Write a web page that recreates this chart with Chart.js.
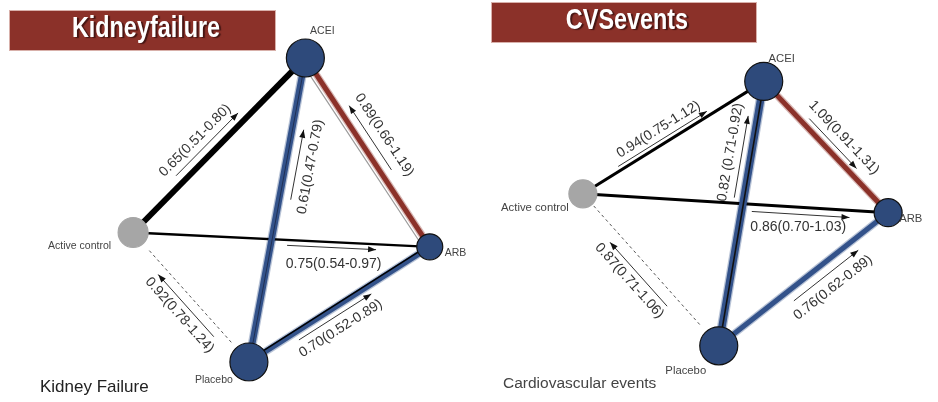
<!DOCTYPE html>
<html><head><meta charset="utf-8">
<script src="https://cdn.jsdelivr.net/npm/chart.js@4.4.1/dist/chart.umd.min.js"></script>
<style>html,body{margin:0;padding:0;background:#fff;overflow:hidden}#wrap{width:938px;height:402px}</style>
</head><body><div id="wrap"><canvas id="c" width="938" height="402"></canvas></div>
<script>
// ---------- data ----------
const treatments = ["ACEI", "Active control", "ARB", "Placebo"];
const panelTitles = ["Kidneyfailure", "CVSevents"];
const panelCaptions = ["Kidney Failure", "Cardiovascular events"];
// comparisons (indices into treatments)
const edgeFrom = [1, 3, 0, 1, 1, 3];
const edgeTo   = [0, 0, 2, 2, 3, 2];
// Kidney failure: odds ratios (95% CI)
const kfOR   = [0.65, 0.61, 0.89, 0.75, 0.92, 0.70];
const kfLow  = [0.51, 0.47, 0.66, 0.54, 0.78, 0.52];
const kfHigh = [0.80, 0.79, 1.19, 0.97, 1.24, 0.89];
// CV events: odds ratios (95% CI)
const cvOR   = [0.94, 0.82, 1.09, 0.86, 0.87, 0.76];
const cvLow  = [0.75, 0.71, 0.91, 0.70, 0.71, 0.62];
const cvHigh = [1.12, 0.92, 1.31, 1.03, 1.06, 0.89];
// network layout (node coordinates in diagram space) and node sizes
const kfNodeX = [298, 118, 428, 239];
const kfNodeY = [42, 236, 252, 380];
const kfNodeSize = [19, 15, 13, 19];
const cvNodeX = [777, 588, 907, 730];
const cvNodeY = [68, 193, 214, 362];
const cvNodeSize = [19, 14, 14, 19];

// ---------- styles ----------
const BLUE = '#2E4A7B', EBLUE = '#33528A', RED = '#8B3129', GREY = '#A6A6A6', TXT = '#333';
const nodeFill = [BLUE, GREY, BLUE, BLUE];
const nodeBorder = ['#111', GREY, '#111', '#111'];
const kfEdgeStyle = [
  {color:'#000', width:6},
  {color:EBLUE, width:6.5, rough:'rgba(51,82,138,0.35)', core:{width:0.8, off:0.5, color:'#1b2745'}},
  {color:RED, width:5, rough:'rgba(139,49,41,0.35)', accent:{color:'#9a9a9a', width:1.2, off:6}},
  {color:'#000', width:2.5},
  {color:'#555', width:1, dash:[3,3], t0:0.14, t1:0.86},
  {color:EBLUE, width:5.5, rough:'rgba(51,82,138,0.35)', core:{width:1.5, off:-2, color:'#000'}}
];
const cvEdgeStyle = [
  {color:'#000', width:3},
  {color:EBLUE, width:7.5, rough:'rgba(51,82,138,0.35)', core:{width:1.6, off:0.5, color:'#111'}},
  {color:RED, width:5, rough:'rgba(139,49,41,0.35)'},
  {color:'#000', width:3},
  {color:'#555', width:1, dash:[3,3], t0:0.08, t1:0.87},
  {color:EBLUE, width:5, rough:'rgba(51,82,138,0.35)'}
];
const kfLabelStyle = [
  {t:.45, off:-22, a0:.29, a1:.65, aoff:-10},
  {t:.655, off:26, a0:.54, a1:.77, aoff:12},
  {t:.47, off:-25, a0:.62, a1:.28, aoff:-11},
  {t:.68, off:24, a0:.52, a1:.82, aoff:6, flat:true},
  {t:.54, off:22, a0:.76, a1:.28, aoff:10},
  {t:.44, off:23, a0:.25, a1:.65, aoff:9}
];
const cvLabelStyle = [
  {t:.465, off:-16, a0:.21, a1:.70, aoff:-5},
  {t:.72, off:-22, a0:.555, a1:.864, aoff:-10, gap:' '},
  {t:.524, off:-21, a0:.32, a1:.70, aoff:-8},
  {t:.71, off:22, a0:.555, a1:.875, aoff:8, flat:true},
  {t:.477, off:25, a0:.69, a1:.27, aoff:13},
  {t:.577, off:27, a0:.40, a1:.78, aoff:12}
];
const kfNodeLabel = [
  {dx:17, dy:-27, align:'center'}, {dx:-22, dy:14, align:'right'},
  {dx:15, dy:6, align:'left'}, {dx:-35, dy:18, align:'center'}
];
const cvNodeLabel = [
  {dx:18, dy:-22, align:'center'}, {dx:-14, dy:14, align:'right'},
  {dx:11, dy:6, align:'left'}, {dx:-33, dy:25, align:'center'}
];

const panels = [
  {nx:kfNodeX, ny:kfNodeY, size:kfNodeSize, or:kfOR, lo:kfLow, hi:kfHigh, edge:kfEdgeStyle, lab:kfLabelStyle,
   nlab:kfNodeLabel, nfont:10.5, title:panelTitles[0], caption:panelCaptions[0],
   box:[9,10,267,41], titleX:146, titleY:37, capX:40, capY:392, capFont:17, capColor:'#222'},
  {nx:cvNodeX, ny:cvNodeY, size:cvNodeSize, or:cvOR, lo:cvLow, hi:cvHigh, edge:cvEdgeStyle, lab:cvLabelStyle,
   nlab:cvNodeLabel, nfont:11.3, title:panelTitles[1], caption:panelCaptions[1],
   box:[491,2,266,41], titleX:627, titleY:29, capX:503, capY:388, capFont:15.5, capColor:'#444'}
];

// ---------- datasets ----------
function lerp(p, i, j, t){ return {x: p.nx[i] + (p.nx[j]-p.nx[i])*t, y: p.ny[i] + (p.ny[j]-p.ny[i])*t}; }
function offPt(p, i, j, t, off){
  const dx = p.nx[j]-p.nx[i], dy = p.ny[j]-p.ny[i], L = Math.hypot(dx,dy);
  const b = lerp(p,i,j,t);
  return {x: b.x - dy/L*off, y: b.y + dx/L*off};
}
const datasets = [];
panels.forEach(p => {
  edgeFrom.forEach((f, k) => {
    const to = edgeTo[k], s = p.edge[k];
    const t0 = s.t0 ?? 0, t1 = s.t1 ?? 1;
    if (s.rough) {
      datasets.push({type:'scatter', showLine:true, data:[lerp(p,f,to,t0), lerp(p,f,to,t1)],
        borderColor:s.rough, borderWidth:s.width + 2.5, pointRadius:0, borderCapStyle:'butt', order:4});
    }
    datasets.push({type:'scatter', showLine:true, data:[lerp(p,f,to,t0), lerp(p,f,to,t1)],
      borderColor:s.color, borderWidth:s.width, borderDash:s.dash || [], pointRadius:0,
      borderCapStyle:'butt', order:3});
    if (s.core) {
      datasets.push({type:'scatter', showLine:true, data:[offPt(p,f,to,0,s.core.off), offPt(p,f,to,1,s.core.off)],
        borderColor:s.core.color, borderWidth:s.core.width, pointRadius:0, order:2});
    }
  });
  datasets.push({type:'scatter', data:p.nx.map((x,i)=>({x, y:p.ny[i]})),
    pointRadius:p.size, pointHoverRadius:p.size, backgroundColor:nodeFill, borderColor:nodeBorder,
    pointBorderWidth:1.2, order:0});
});

// ---------- annotations plugin ----------
function fmt(v){ return v.toFixed(2); }
const netPlugin = {
  id:'net',
  beforeDatasetsDraw(chart){
    const ctx = chart.ctx, sx = chart.scales.x, sy = chart.scales.y;
    panels.forEach(p => {
      edgeFrom.forEach((f,k) => {
        const s = p.edge[k]; if (!s.accent) return;
        const a = offPt(p,f,edgeTo[k],0,s.accent.off), b = offPt(p,f,edgeTo[k],1,s.accent.off);
        ctx.save(); ctx.strokeStyle = s.accent.color; ctx.lineWidth = s.accent.width;
        ctx.beginPath(); ctx.moveTo(sx.getPixelForValue(a.x), sy.getPixelForValue(a.y));
        ctx.lineTo(sx.getPixelForValue(b.x), sy.getPixelForValue(b.y)); ctx.stroke(); ctx.restore();
      });
    });
  },
  afterDatasetsDraw(chart){
    const ctx = chart.ctx, sx = chart.scales.x, sy = chart.scales.y;
    const P = q => ({x: sx.getPixelForValue(q.x), y: sy.getPixelForValue(q.y)});
    panels.forEach(p => {
      // effect labels and arrows
      edgeFrom.forEach((f,k) => {
        const to = edgeTo[k], s = p.lab[k];
        const A = P({x:p.nx[f], y:p.ny[f]}), B = P({x:p.nx[to], y:p.ny[to]});
        let ang = Math.atan2(B.y-A.y, B.x-A.x);
        if (ang > Math.PI/2) ang -= Math.PI; if (ang < -Math.PI/2) ang += Math.PI;
        const c = P(offPt(p,f,to,s.t,s.off));
        const txt = fmt(p.or[k]) + (s.gap||'') + '(' + fmt(p.lo[k]) + '-' + fmt(p.hi[k]) + ')';
        ctx.save(); ctx.translate(c.x, c.y); ctx.rotate(s.flat ? 0 : ang);
        ctx.font = '14px "Liberation Sans", Arial, sans-serif'; ctx.fillStyle = TXT;
        ctx.textAlign = 'center'; ctx.textBaseline = 'middle'; ctx.fillText(txt, 0, 0); ctx.restore();
        const a0 = P(offPt(p,f,to,s.a0,s.aoff)), a1 = P(offPt(p,f,to,s.a1,s.aoff));
        const da = Math.atan2(a1.y-a0.y, a1.x-a0.x);
        ctx.save(); ctx.strokeStyle = '#333'; ctx.fillStyle = '#111'; ctx.lineWidth = 1;
        ctx.beginPath(); ctx.moveTo(a0.x,a0.y); ctx.lineTo(a1.x,a1.y); ctx.stroke();
        ctx.beginPath(); ctx.moveTo(a1.x,a1.y);
        ctx.lineTo(a1.x - 8*Math.cos(da) + 3*Math.sin(da), a1.y - 8*Math.sin(da) - 3*Math.cos(da));
        ctx.lineTo(a1.x - 8*Math.cos(da) - 3*Math.sin(da), a1.y - 8*Math.sin(da) + 3*Math.cos(da));
        ctx.closePath(); ctx.fill(); ctx.restore();
      });
      // node labels
      treatments.forEach((name,i) => {
        const n = P({x:p.nx[i], y:p.ny[i]}), L = p.nlab[i];
        ctx.save(); ctx.font = p.nfont + 'px "Liberation Sans", Arial, sans-serif'; ctx.fillStyle = '#444';
        ctx.textAlign = L.align; ctx.textBaseline = 'middle';
        ctx.fillText(name, n.x + L.dx, n.y + L.dy); ctx.restore();
      });
      // caption
      ctx.save(); ctx.font = p.capFont + 'px "Liberation Sans", Arial, sans-serif'; ctx.fillStyle = p.capColor;
      ctx.textAlign = 'left'; ctx.textBaseline = 'alphabetic'; ctx.fillText(p.caption, p.capX, p.capY); ctx.restore();
      // title box
      const b = p.box;
      ctx.save(); ctx.fillStyle = RED; ctx.fillRect(b[0], b[1], b[2], b[3]);
      ctx.strokeStyle = '#d8b0aa'; ctx.lineWidth = 1; ctx.strokeRect(b[0]+0.5, b[1]+0.5, b[2]-1, b[3]-1);
      ctx.translate(p.titleX, p.titleY); ctx.scale(0.78, 1);
      ctx.font = 'bold 30px "Liberation Sans", Arial, sans-serif'; ctx.textAlign = 'center'; ctx.textBaseline = 'alphabetic';
      ctx.shadowColor = 'rgba(40,10,10,0.7)'; ctx.shadowOffsetX = 2; ctx.shadowOffsetY = 1; ctx.shadowBlur = 1;
      ctx.fillStyle = '#fff'; ctx.fillText(p.title, 0, 0); ctx.restore();
    });
  }
};

new Chart(document.getElementById('c'), {
  type:'scatter',
  data:{datasets},
  options:{
    responsive:false, animation:false, devicePixelRatio:1,
    layout:{padding:0},
    plugins:{legend:{display:false}, tooltip:{enabled:false}, title:{display:false}},
    scales:{
      x:{type:'linear', min:0, max:938, display:false},
      y:{type:'linear', min:0, max:402, reverse:true, display:false}
    },
    events:[]
  },
  plugins:[netPlugin]
});
</script></body></html>
